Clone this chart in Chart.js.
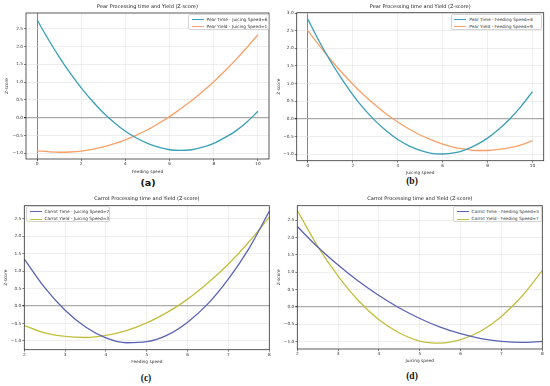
<!DOCTYPE html>
<html>
<head>
<meta charset="utf-8">
<script src="https://cdn.jsdelivr.net/npm/chart.js@4.4.0/dist/chart.umd.min.js"></script>
<style>
  body { margin: 0; background: #fff; width: 550px; height: 386px; position: relative; overflow: hidden; font-family: "DejaVu Sans", sans-serif; }
  canvas { position: absolute; }
  .legend { position: absolute; box-sizing: border-box; background: #fff; border: 0.8px solid #d4d4d4; border-radius: 2px; padding: 1px 2px 0 2.5px; font-size: 4.3px; color: #333; }
  .legend .row { height: 7.3px; line-height: 7.3px; white-space: nowrap; }
  .legend i { display: inline-block; width: 12px; height: 1.2px; vertical-align: middle; margin-right: 3px; }
  .lab { position: absolute; font-weight: bold; font-size: 9.5px; color: #111; transform: translateX(-50%); line-height: 11px; }
</style>
</head>
<body>
<canvas id="ca" width="275" height="175" style="left:0;top:0"></canvas>
<canvas id="cb" width="275" height="176" style="left:275px;top:0"></canvas>
<canvas id="cc" width="275" height="172" style="left:0;top:193px"></canvas>
<canvas id="cd" width="275" height="171" style="left:275px;top:193px"></canvas>
<div class="lab" style="left:148px;top:177px;font-family:'DejaVu Sans',sans-serif">(a)</div>
<div class="lab" style="left:412px;top:176px;font-family:'Liberation Serif',serif">(b)</div>
<div class="lab" style="left:146px;top:373px;font-family:'Liberation Serif',serif">(c)</div>
<div class="lab" style="left:412px;top:371px;font-family:'Liberation Serif',serif">(d)</div>
<script>
// --- data ---
const pearX = [0, 0.5, 1, 1.5, 2, 2.5, 3, 3.5, 4, 4.5, 5, 5.5, 6, 6.5, 7, 7.5, 8, 8.5, 9, 9.5, 10];
const pearFeedTime = [2.75, 2.21, 1.71, 1.25, 0.84, 0.47, 0.14, -0.14, -0.38, -0.57, -0.72, -0.83, -0.90, -0.92, -0.90, -0.83, -0.72, -0.56, -0.37, -0.12, 0.18];
const pearFeedYield = [-0.93, -0.955, -0.97, -0.963, -0.94, -0.89, -0.82, -0.73, -0.62, -0.49, -0.34, -0.16, 0.03, 0.25, 0.48, 0.74, 1.01, 1.31, 1.63, 1.97, 2.33];
const pearJuiceTime = [2.82, 2.20, 1.64, 1.14, 0.68, 0.28, -0.06, -0.35, -0.59, -0.77, -0.90, -0.98, -1.00, -0.97, -0.88, -0.74, -0.55, -0.30, 0.00, 0.36, 0.77];
const pearJuiceYield = [2.50, 2.08, 1.69, 1.32, 0.98, 0.67, 0.39, 0.13, -0.09, -0.29, -0.46, -0.60, -0.72, -0.81, -0.86, -0.90, -0.90, -0.87, -0.82, -0.74, -0.62];

const carrotX = [2, 2.5, 3, 3.5, 4, 4.5, 5, 5.5, 6, 6.5, 7, 7.5, 8];
const carrotFeedTime = [1.35, 0.53, -0.12, -0.60, -0.91, -1.05, -1.02, -0.83, -0.46, 0.07, 0.78, 1.65, 2.72];
const carrotFeedYield = [-0.56, -0.77, -0.87, -0.90, -0.84, -0.70, -0.48, -0.18, 0.20, 0.67, 1.21, 1.84, 2.55];
const carrotJuiceTime = [2.32, 1.73, 1.21, 0.74, 0.33, -0.03, -0.33, -0.58, -0.77, -0.91, -0.99, -1.02, -0.99];
const carrotJuiceYield = [2.78, 1.75, 0.89, 0.18, -0.37, -0.75, -0.98, -1.04, -0.94, -0.69, -0.27, 0.31, 1.05];

const pearXTicks = [0, 2, 4, 6, 8, 10];
const carrotXTicks = [2, 3, 4, 5, 6, 7, 8];
const zTicks = [-1.0, -0.5, 0.0, 0.5, 1.0, 1.5, 2.0, 2.5];
const zTicksB = [-1.0, -0.5, 0.0, 0.5, 1.0, 1.5, 2.0, 2.5, 3.0];

const TEAL = '#3a9fb8', ORANGE = '#f7a067', BLUE = '#5a63b3', OLIVE = '#c2bf3e';
const FONT = '"DejaVu Sans", sans-serif';

const frame = {
    id: 'frame',
    afterDraw(chart) {
        const { ctx, chartArea: a } = chart;
        ctx.save();
        ctx.strokeStyle = '#333';
        ctx.lineWidth = 0.8;
        ctx.strokeRect(a.left, a.top, a.right - a.left, a.bottom - a.top);
        ctx.restore();
    }
};

function makeChart(id, cfg) {
    new Chart(document.getElementById(id), {
        type: 'line',
        data: {
            datasets: cfg.series.map(s => ({
                label: s.label,
                data: cfg.x.map((x, i) => ({ x, y: s.y[i] })),
                borderColor: s.color,
                borderWidth: 1.3,
                pointRadius: 0,
                cubicInterpolationMode: 'monotone',
                fill: false
            }))
        },
        options: {
            responsive: false,
            animation: false,
            events: [],
            layout: { padding: { right: cfg.padRight } },
            plugins: {
                legend: { display: false },
                tooltip: { enabled: false },
                title: {
                    display: true, text: cfg.title, fullSize: false, color: '#222',
                    font: { family: FONT, size: 5, weight: 'normal' },
                    padding: { top: cfg.titleTop, bottom: cfg.titleBottom }
                }
            },
            scales: {
                x: {
                    type: 'linear', min: cfg.xMin, max: cfg.xMax,
                    afterFit: s => { s.height = cfg.xH; },
                    afterBuildTicks: s => { s.ticks = cfg.xTicks.map(v => ({ value: v })); },
                    ticks: { font: { family: FONT, size: 4.3 }, color: '#333', padding: 0.5, maxRotation: 0, autoSkip: false, callback: v => String(v) },
                    grid: {
                        color: c => c.tick && c.tick.value === 0 ? '#666' : '#e2e2e2',
                        lineWidth: c => c.tick && c.tick.value === 0 ? 0.8 : 0.6,
                        tickColor: '#333', tickLength: 2
                    },
                    border: { display: false },
                    title: { display: true, text: cfg.xTitle, color: '#333', font: { family: FONT, size: 4.3 }, padding: { top: 0, bottom: 1 } }
                },
                y: {
                    min: cfg.yMin, max: cfg.yMax,
                    afterFit: s => { s.width = cfg.yW; },
                    afterBuildTicks: s => { s.ticks = cfg.yTicks.map(v => ({ value: v })); },
                    ticks: { font: { family: FONT, size: 4.3 }, color: '#333', padding: 1, autoSkip: false, callback: v => v.toFixed(1).replace('-', '\u2212') },
                    grid: {
                        color: c => c.tick && c.tick.value === 0 ? '#aaa' : '#e2e2e2',
                        lineWidth: c => c.tick && c.tick.value === 0 ? 1.3 : 0.6,
                        tickColor: '#333', tickLength: 2
                    },
                    border: { display: false },
                    title: { display: true, text: 'Z-score', color: '#333', font: { family: FONT, size: 4.3 }, padding: { top: cfg.yTitlePad, bottom: 0 } }
                }
            }
        },
        plugins: [frame]
    });
}

function makeLegend(series, box) {
    const div = document.createElement('div');
    div.className = 'legend';
    Object.assign(div.style, { left: box[0] + 'px', top: box[1] + 'px', width: box[2] + 'px', height: box[3] + 'px' });
    series.forEach(s => {
        const row = document.createElement('div');
        row.className = 'row';
        row.innerHTML = '<i style="background:' + s.color + '"></i>' + s.label;
        div.appendChild(row);
    });
    document.body.appendChild(div);
}

const seriesA = [
    { label: 'Pear Time - Juicing Speed=6', y: pearFeedTime, color: TEAL },
    { label: 'Pear Yield - Juicing Speed=1', y: pearFeedYield, color: ORANGE }
];
const seriesB = [
    { label: 'Pear Time - Feeding Speed=6', y: pearJuiceTime, color: TEAL },
    { label: 'Pear Yield - Feeding Speed=9', y: pearJuiceYield, color: ORANGE }
];
const seriesC = [
    { label: 'Carrot Time - Juicing Speed=7', y: carrotFeedTime, color: BLUE },
    { label: 'Carrot Yield - Juicing Speed=3', y: carrotFeedYield, color: OLIVE }
];
const seriesD = [
    { label: 'Carrot Time - Feeding Speed=5', y: carrotJuiceTime, color: BLUE },
    { label: 'Carrot Yield - Feeding Speed=7', y: carrotJuiceYield, color: OLIVE }
];

makeChart('ca', {
    title: 'Pear Processing time and Yield (Z-score)', xTitle: 'Feeding speed',
    x: pearX, series: seriesA, xMin: -0.5, xMax: 10.5, xTicks: pearXTicks,
    yMin: -1.16, yMax: 2.94, yTicks: zTicks,
    yW: 26, xH: 16, padRight: 6, titleTop: 4, titleBottom: 3, yTitlePad: 4
});
makeChart('cb', {
    title: 'Pear Processing time and Yield (Z-score)', xTitle: 'Juicing speed',
    x: pearX, series: seriesB, xMin: -0.5, xMax: 10.5, xTicks: pearXTicks,
    yMin: -1.19, yMax: 3.01, yTicks: zTicksB,
    yW: 21.7, xH: 15.3, padRight: 6.3, titleTop: 4, titleBottom: 2.7, yTitlePad: 1
});
makeChart('cc', {
    title: 'Carrot Processing time and Yield (Z-score)', xTitle: 'Feeding speed',
    x: carrotX, series: seriesC, xMin: 2, xMax: 8, xTicks: carrotXTicks,
    yMin: -1.25, yMax: 2.88, yTicks: zTicks,
    yW: 24.3, xH: 15.3, padRight: 5.7, titleTop: 3, titleBottom: 3.7, yTitlePad: 3.5
});
makeChart('cd', {
    title: 'Carrot Processing time and Yield (Z-score)', xTitle: 'Juicing speed',
    x: carrotX, series: seriesD, xMin: 2, xMax: 8, xTicks: carrotXTicks,
    yMin: -1.21, yMax: 2.92, yTicks: zTicks,
    yW: 22.3, xH: 15, padRight: 7.7, titleTop: 3, titleBottom: 3.7, yTitlePad: 1
});

makeLegend(seriesA, [188, 13.5, 80.5, 16]);
makeLegend(seriesB, [450.7, 13.5, 91, 16]);
makeLegend(seriesC, [26, 206, 84, 16]);
makeLegend(seriesD, [453, 206, 89, 16]);
</script>
</body>
</html>
